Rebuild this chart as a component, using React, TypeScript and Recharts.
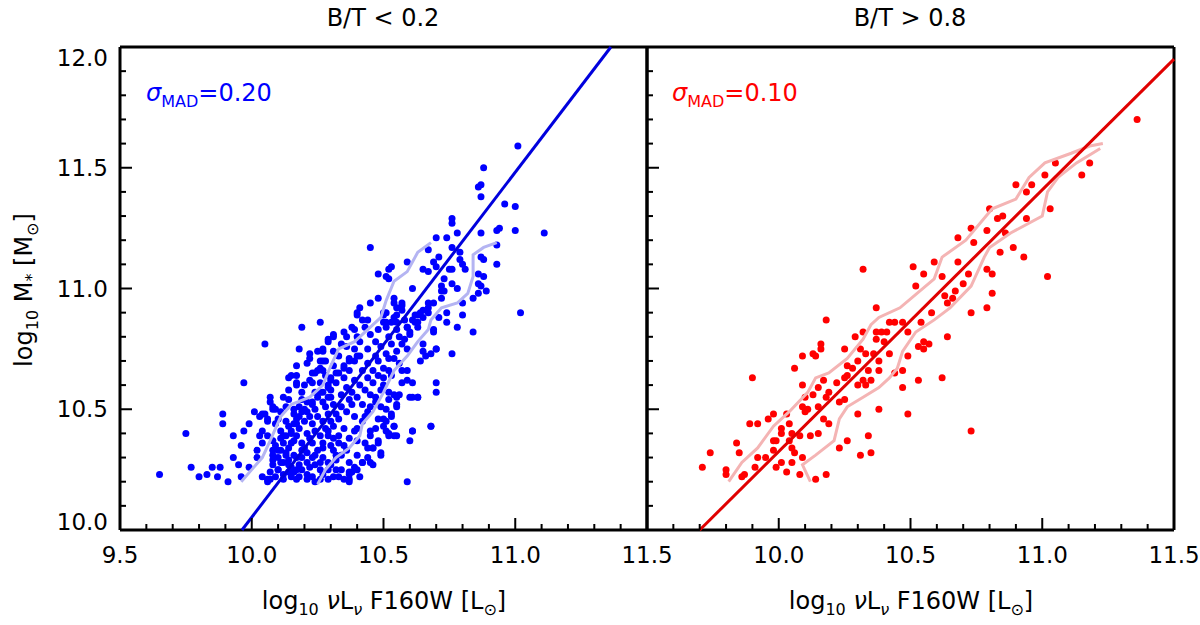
import { ScatterChart, Scatter, XAxis, YAxis } from 'recharts';

const FONT = '"DejaVu Sans", Verdana, sans-serif';

// axis ticks (major every 0.5, minor every 0.1)
const xTicks = [9.5, 9.6, 9.7, 9.8, 9.9, 10.0, 10.1, 10.2, 10.3, 10.4, 10.5, 10.6, 10.7, 10.8, 10.9, 11.0, 11.1, 11.2, 11.3, 11.4, 11.5];
const yTicks = [10.0, 10.1, 10.2, 10.3, 10.4, 10.5, 10.6, 10.7, 10.8, 10.9, 11.0, 11.1, 11.2, 11.3, 11.4, 11.5, 11.6, 11.7, 11.8, 11.9, 12.0];

const panelTitles = ['B/T < 0.2', 'B/T > 0.8'];
const sigmaValues = ['0.20', '0.10'];

// B/T < 0.2 galaxies: [log nuLnu, log M*]
const lowBtPoints: [number, number][] = [
  [10.05, 10.77], [9.97, 10.61], [9.75, 10.40], [9.65, 10.23], [9.77, 10.26], [9.80, 10.22], [9.83, 10.23], [9.85, 10.26],
  [9.87, 10.22], [9.88, 10.26], [9.89, 10.48], [9.89, 10.44], [9.91, 10.20], [9.93, 10.39], [9.93, 10.30], [9.95, 10.27],
  [9.96, 10.22], [9.96, 10.35], [9.97, 10.41], [9.99, 10.44], [10.01, 10.49], [10.03, 10.47], [10.03, 10.39], [10.02, 10.33],
  [9.99, 10.26], [10.02, 10.30], [10.05, 10.48], [10.07, 10.55], [10.08, 10.50], [10.09, 10.50], [10.06, 10.46], [10.04, 10.41],
  [10.04, 10.22], [10.06, 10.20], [10.14, 10.54], [10.14, 10.63], [10.17, 10.68], [10.17, 10.61], [10.17, 10.64], [10.18, 10.75],
  [10.21, 10.69], [10.22, 10.73], [10.23, 10.65], [10.23, 10.61], [10.27, 10.74], [10.27, 10.70], [10.27, 10.75], [10.27, 10.66],
  [10.29, 10.79], [10.31, 10.81], [10.35, 10.82],
  [10.84, 10.82], [10.76, 10.73], [10.70, 10.75], [10.68, 10.73], [10.66, 10.72], [10.65, 10.77], [10.64, 10.70], [10.59, 10.75],
  [10.59, 10.66], [10.61, 10.61], [10.57, 10.61], [10.70, 10.61], [10.70, 10.57], [10.60, 10.55], [10.63, 10.55], [10.56, 10.56],
  [10.55, 10.52], [10.53, 10.47], [10.54, 10.43], [10.61, 10.41], [10.60, 10.37], [10.68, 10.43], [10.55, 10.39], [10.52, 10.39],
  [10.51, 10.41], [10.49, 10.31], [10.48, 10.36], [10.46, 10.27], [10.44, 10.30], [10.42, 10.28], [10.44, 10.34], [10.41, 10.22],
  [10.39, 10.26], [10.37, 10.23], [10.59, 10.20], [10.37, 10.20], [10.46, 10.34], [10.45, 10.41], [10.48, 10.46], [10.51, 10.50],
  [10.50, 10.46], [10.52, 10.54], [10.54, 10.56],
  [10.45, 11.17], [10.59, 11.11], [10.52, 11.08], [10.48, 11.06], [10.52, 11.04], [10.61, 11.00], [10.48, 10.96], [10.54, 10.96],
  [10.45, 10.94], [10.41, 10.92], [10.40, 10.89], [10.42, 10.87], [10.38, 10.84], [10.31, 10.80], [10.26, 10.86], [10.19, 10.84],
  [10.50, 10.89], [10.51, 10.86], [10.55, 10.89], [10.57, 10.93], [10.57, 10.91], [10.59, 10.84], [10.51, 10.84], [10.53, 10.86],
  [10.63, 10.89], [10.61, 10.87],
  [11.01, 11.59], [10.88, 11.50], [10.86, 11.42], [10.87, 11.43], [10.87, 11.38], [10.96, 11.35], [11.00, 11.34], [10.94, 11.25],
  [10.93, 11.24], [11.00, 11.24], [11.11, 11.23], [10.87, 11.23], [10.93, 11.18], [10.93, 11.10], [10.76, 11.29], [10.76, 11.27],
  [10.74, 11.21], [10.78, 11.23], [10.70, 11.21], [10.67, 11.16], [10.53, 11.09], [10.51, 11.05], [10.71, 11.13], [10.69, 11.11],
  [10.70, 11.09], [10.65, 11.08], [10.67, 11.07], [10.76, 11.08], [10.79, 11.12], [10.80, 11.10], [10.81, 11.08], [10.76, 11.17],
  [10.79, 11.15], [10.87, 11.13], [10.88, 11.12], [10.86, 11.06], [10.88, 11.05], [10.86, 11.02], [10.87, 11.01], [10.89, 10.99],
  [10.86, 10.98], [10.84, 10.96], [10.80, 10.94], [10.80, 10.89], [10.78, 10.84], [11.02, 10.90], [10.75, 11.08], [10.72, 11.01],
  [10.72, 10.99], [10.73, 10.99], [10.73, 11.04], [10.76, 11.02], [10.78, 11.00], [10.72, 10.96], [10.69, 10.94], [10.67, 10.94],
  [10.65, 10.91], [10.67, 10.90], [10.62, 10.89], [10.63, 10.86], [10.65, 10.88], [10.74, 10.90], [10.71, 10.88], [10.74, 10.86],
  [10.69, 10.83], [10.54, 10.94], [10.57, 10.94], [10.55, 10.92], [10.50, 10.90], [10.60, 10.82],
  [10.40, 10.90], [10.44, 10.87], [10.29, 10.78], [10.25, 10.74], [10.22, 10.71], [10.26, 10.70], [10.26, 10.67], [10.15, 10.64],
  [10.17, 10.60], [10.13, 10.51], [10.08, 10.51],
  // dense band above the fit
  [10.51, 10.90], [10.54, 10.88], [10.50, 10.86], [10.55, 10.86], [10.48, 10.83], [10.45, 10.81], [10.47, 10.78], [10.41, 10.78],
  [10.44, 10.75], [10.39, 10.75], [10.41, 10.72], [10.37, 10.71], [10.39, 10.70], [10.35, 10.68], [10.37, 10.66], [10.33, 10.65],
  [10.35, 10.63], [10.30, 10.63], [10.32, 10.61], [10.29, 10.60], [10.30, 10.58], [10.27, 10.57], [10.29, 10.55], [10.25, 10.55],
  [10.27, 10.53], [10.23, 10.52], [10.24, 10.50], [10.20, 10.50], [10.22, 10.47], [10.18, 10.47], [10.20, 10.45], [10.16, 10.44],
  [10.18, 10.42], [10.15, 10.41], [10.17, 10.39], [10.13, 10.39], [10.15, 10.36], [10.12, 10.36], [10.14, 10.34], [10.11, 10.33],
  [10.13, 10.31], [10.10, 10.30], [10.11, 10.28], [10.08, 10.27], [10.10, 10.25], [10.07, 10.24], [10.09, 10.22], [10.06, 10.21],
  [10.43, 10.84], [10.40, 10.80], [10.36, 10.76], [10.33, 10.72], [10.31, 10.68], [10.28, 10.64], [10.26, 10.61], [10.24, 10.57],
  [10.21, 10.53], [10.19, 10.49], [10.17, 10.46], [10.14, 10.43], [10.12, 10.39], [10.09, 10.35], [10.08, 10.31], [10.12, 10.23],
  [10.14, 10.27], [10.16, 10.31], [10.19, 10.36], [10.21, 10.40], [10.23, 10.44], [10.25, 10.47], [10.28, 10.51], [10.30, 10.55],
  [10.08, 10.33], [10.11, 10.38], [10.13, 10.45], [10.16, 10.50], [10.19, 10.57], [10.22, 10.62], [10.25, 10.66], [10.28, 10.70],
  [10.31, 10.74], [10.34, 10.77], [10.36, 10.80], [10.39, 10.83], [10.09, 10.44], [10.11, 10.49], [10.14, 10.58], [10.20, 10.60],
  [10.24, 10.65], [10.12, 10.55], [10.14, 10.29], [10.19, 10.33], [10.16, 10.37], [10.21, 10.21], [10.12, 10.21], [10.15, 10.26],
  // dense band below the fit
  [10.67, 10.92], [10.64, 10.90], [10.63, 10.84], [10.59, 10.84], [10.60, 10.81], [10.56, 10.80], [10.57, 10.77], [10.53, 10.77],
  [10.55, 10.74], [10.51, 10.73], [10.52, 10.71], [10.48, 10.70], [10.50, 10.67], [10.46, 10.66], [10.48, 10.64], [10.44, 10.63],
  [10.46, 10.61], [10.41, 10.60], [10.43, 10.58], [10.38, 10.57], [10.40, 10.55], [10.37, 10.54], [10.38, 10.52], [10.34, 10.51],
  [10.36, 10.49], [10.32, 10.48], [10.33, 10.46], [10.30, 10.45], [10.31, 10.43], [10.28, 10.42], [10.29, 10.39], [10.26, 10.39],
  [10.27, 10.36], [10.23, 10.36], [10.25, 10.33], [10.21, 10.32], [10.23, 10.30], [10.19, 10.30], [10.21, 10.28], [10.18, 10.27],
  [10.19, 10.25], [10.16, 10.24], [10.18, 10.22], [10.15, 10.22],
  [10.62, 10.86], [10.58, 10.79], [10.54, 10.71], [10.50, 10.63], [10.45, 10.56], [10.42, 10.52], [10.39, 10.47], [10.35, 10.42],
  [10.33, 10.39], [10.30, 10.35], [10.27, 10.30], [10.24, 10.27], [10.21, 10.23], [10.26, 10.21], [10.29, 10.25], [10.32, 10.29],
  [10.34, 10.31], [10.39, 10.41], [10.42, 10.45], [10.44, 10.49], [10.47, 10.55], [10.49, 10.58], [10.52, 10.66], [10.56, 10.69],
  [10.17, 10.30], [10.20, 10.34], [10.22, 10.38], [10.24, 10.41], [10.27, 10.45], [10.29, 10.48], [10.31, 10.52], [10.34, 10.56],
  [10.36, 10.59], [10.39, 10.62], [10.42, 10.66], [10.44, 10.69], [10.47, 10.72], [10.49, 10.76], [10.52, 10.80], [10.55, 10.83],
  [10.58, 10.87], [10.24, 10.20], [10.27, 10.23], [10.30, 10.27], [10.32, 10.31], [10.35, 10.35], [10.37, 10.38], [10.40, 10.42],
  [10.43, 10.47], [10.45, 10.51], [10.47, 10.53], [10.50, 10.60], [10.53, 10.64], [10.29, 10.21], [10.26, 10.28], [10.24, 10.31],
  [10.22, 10.26], [10.40, 10.31], [10.43, 10.36], [10.45, 10.39], [10.47, 10.42], [10.50, 10.43], [10.49, 10.51], [10.52, 10.57],
  [10.57, 10.66], [10.59, 10.62], [10.61, 10.55], [10.63, 10.55], [10.55, 10.55], [10.55, 10.51], [10.53, 10.48], [10.54, 10.43],
  [10.51, 10.45], [10.52, 10.40], [10.54, 10.39], [10.48, 10.37], [10.49, 10.32], [10.46, 10.34], [10.45, 10.28], [10.42, 10.28],
  [10.40, 10.25], [10.37, 10.24], [10.34, 10.25], [10.33, 10.22], [10.37, 10.21], [10.31, 10.22], [10.68, 10.43], [10.61, 10.41],
  [10.65, 10.74], [10.69, 10.82], [10.70, 10.75],
  [10.07, 10.53], [10.04, 10.48], [10.06, 10.45], [10.06, 10.39], [10.04, 10.36],
  [10.10, 10.46], [10.11, 10.41], [10.08, 10.37], [10.10, 10.33], [10.08, 10.29], [10.10, 10.25], [10.07, 10.21], [10.13, 10.32],
  [10.12, 10.28], [10.14, 10.24], [10.16, 10.48], [10.17, 10.44], [10.15, 10.40], [10.18, 10.51], [10.21, 10.49], [10.19, 10.54],
  [10.23, 10.53], [10.26, 10.57], [10.29, 10.59], [10.30, 10.62], [10.32, 10.65], [10.35, 10.67], [10.37, 10.70], [10.40, 10.72],
  [10.29, 10.41], [10.31, 10.38], [10.33, 10.36], [10.31, 10.33], [10.29, 10.28], [10.32, 10.25], [10.35, 10.21], [10.38, 10.24],
  [10.37, 10.28], [10.36, 10.33], [10.40, 10.37], [10.23, 10.22], [10.26, 10.25], [10.27, 10.34], [10.17, 10.25], [10.17, 10.21],
];

// B/T > 0.8 galaxies
const highBtPoints: [number, number][] = [
  [10.32, 11.08], [10.51, 11.09], [10.55, 11.06], [10.52, 11.01], [10.37, 10.92], [10.18, 10.87], [10.44, 10.86], [10.42, 10.86],
  [10.47, 10.86], [10.54, 10.86], [10.32, 10.82], [10.29, 10.80], [10.37, 10.82], [10.39, 10.82], [10.41, 10.82], [10.37, 10.79],
  [10.40, 10.78], [10.49, 10.82], [10.55, 10.78], [10.57, 10.77], [10.53, 10.76], [10.55, 10.75], [10.16, 10.77], [10.16, 10.75],
  [10.13, 10.73], [10.14, 10.72], [10.09, 10.72], [10.25, 10.75], [10.31, 10.75], [10.33, 10.73], [10.30, 10.70], [10.36, 10.73],
  [10.38, 10.70], [10.42, 10.73], [10.49, 10.72], [10.06, 10.67], [10.26, 10.68], [10.28, 10.67], [10.26, 10.64], [10.34, 10.66],
  [10.38, 10.66], [10.44, 10.65], [10.47, 10.66], [9.90, 10.63], [10.09, 10.60], [10.17, 10.62], [10.15, 10.59], [10.22, 10.61],
  [10.25, 10.63], [10.30, 10.60], [10.32, 10.62], [10.33, 10.60], [10.35, 10.62], [10.47, 10.59], [10.53, 10.62], [10.10, 10.55],
  [10.13, 10.56], [10.18, 10.55], [10.19, 10.57], [10.09, 10.51], [10.10, 10.49], [10.11, 10.50], [10.15, 10.51], [10.23, 10.53],
  [10.25, 10.54], [10.38, 10.50], [10.30, 10.48], [10.49, 10.48], [9.98, 10.48], [10.03, 10.48], [9.92, 10.44], [9.89, 10.44],
  [9.96, 10.46], [10.01, 10.42], [10.04, 10.44], [10.05, 10.40], [10.01, 10.40], [10.12, 10.39], [10.15, 10.40], [10.08, 10.39],
  [10.17, 10.46], [10.19, 10.44], [9.98, 10.37], [9.99, 10.37], [9.98, 10.33], [10.04, 10.37], [10.05, 10.34], [10.06, 10.32],
  [10.05, 10.28], [10.01, 10.28], [9.99, 10.26], [10.03, 10.24], [10.08, 10.23], [10.09, 10.30], [10.14, 10.21], [10.18, 10.23],
  [10.23, 10.34], [10.26, 10.37], [10.31, 10.31], [10.35, 10.32], [10.34, 10.39], [9.84, 10.36], [9.85, 10.32], [9.92, 10.30],
  [9.91, 10.26], [9.74, 10.32], [9.71, 10.26], [9.80, 10.25], [9.80, 10.23], [9.86, 10.22], [9.87, 10.23], [9.95, 10.30],
  [11.36, 11.70], [11.15, 11.47], [11.01, 11.47], [10.96, 11.43], [10.90, 11.43], [10.94, 11.40], [11.05, 11.52], [11.18, 11.52],
  [11.03, 11.33], [10.80, 11.33], [10.85, 11.30], [10.83, 11.29], [10.94, 11.29], [10.73, 11.25], [10.79, 11.24], [10.68, 11.21],
  [10.74, 11.19], [10.86, 11.23], [10.89, 11.17], [10.93, 11.13], [10.84, 11.15], [10.59, 11.11], [10.68, 11.11], [10.79, 11.08],
  [10.81, 11.06], [10.62, 11.05], [10.72, 11.06], [10.70, 11.02], [10.67, 10.99], [10.66, 10.96], [10.64, 10.94], [10.63, 10.97],
  [10.81, 10.98], [11.02, 11.05], [10.73, 10.90], [10.79, 10.92], [10.58, 10.90], [10.64, 10.80], [10.62, 10.63], [10.73, 10.41],
];

// running percentile envelopes
const lowBtUpper: [number, number][] = [
  [9.96, 10.20], [10.00, 10.25], [10.04, 10.30], [10.07, 10.37], [10.11, 10.47], [10.15, 10.52], [10.22, 10.55], [10.27, 10.60],
  [10.30, 10.68], [10.33, 10.75], [10.39, 10.78], [10.44, 10.83], [10.49, 10.88], [10.51, 10.95], [10.54, 11.03], [10.59, 11.07],
  [10.63, 11.15], [10.68, 11.19],
];
const lowBtLower: [number, number][] = [
  [10.25, 10.19], [10.28, 10.25], [10.32, 10.30], [10.37, 10.34], [10.41, 10.39], [10.42, 10.44], [10.46, 10.49], [10.50, 10.57],
  [10.54, 10.66], [10.59, 10.72], [10.63, 10.78], [10.67, 10.83], [10.68, 10.87], [10.72, 10.92], [10.78, 10.94], [10.82, 10.98],
  [10.84, 11.05], [10.84, 11.14], [10.88, 11.17], [10.93, 11.19],
];
const highBtUpper: [number, number][] = [
  [9.81, 10.20], [9.86, 10.28], [9.92, 10.34], [9.98, 10.43], [10.04, 10.49], [10.11, 10.57], [10.14, 10.63], [10.19, 10.65],
  [10.26, 10.71], [10.32, 10.79], [10.35, 10.85], [10.38, 10.88], [10.46, 10.92], [10.59, 11.04], [10.62, 11.13], [10.71, 11.20],
  [10.81, 11.33], [10.90, 11.37], [10.95, 11.46], [11.01, 11.52], [11.11, 11.56], [11.18, 11.59], [11.23, 11.60],
];
const highBtLower: [number, number][] = [
  [10.12, 10.20], [10.09, 10.27], [10.14, 10.31], [10.21, 10.37], [10.23, 10.46], [10.26, 10.51], [10.32, 10.55], [10.38, 10.59],
  [10.42, 10.63], [10.45, 10.67], [10.47, 10.74], [10.52, 10.82], [10.59, 10.87], [10.65, 10.92], [10.73, 11.01], [10.78, 11.13],
  [10.80, 11.17], [10.88, 11.23], [11.00, 11.30], [11.02, 11.40], [11.06, 11.46], [11.13, 11.52], [11.22, 11.58],
];

// best-fit relations
const lowBtFit: [number, number][] = [[9.963, 10.0], [11.363, 12.0]];
const highBtFit: [number, number][] = [[9.70, 10.0], [11.5, 11.95]];

const toXY = (pts: [number, number][]) => pts.map(([x, y]) => ({ x, y }));
const isMajor = (v: number) => Math.abs(v * 2 - Math.round(v * 2)) < 1e-6;

const TICK_FS = 23;

function makeXTick(side: 'bottom' | 'top', labels: boolean, skipValue?: number) {
  return function XTick(props: any) {
    const { x, y, payload } = props;
    const v = Number(payload.value);
    const major = isMajor(v);
    const len = major ? 12 : 6;
    const dir = side === 'bottom' ? -1 : 1;
    const show = labels && major && v !== skipValue;
    return (
      <g>
        <line x1={x} x2={x} y1={y} y2={y + dir * len} stroke="#000" strokeWidth={2} />
        {show && (
          <text x={x} y={y + 33} textAnchor="middle" fontSize={TICK_FS} fontFamily={FONT} fill="#000">
            {v.toFixed(1)}
          </text>
        )}
      </g>
    );
  };
}

function makeYTick(side: 'left' | 'right', labels: boolean) {
  return function YTick(props: any) {
    const { x, y, payload } = props;
    const v = Number(payload.value);
    const major = isMajor(v);
    const len = major ? 12 : 6;
    const dir = side === 'left' ? 1 : -1;
    let shift = 0;
    if (v > 11.99) shift = 11;
    if (v < 10.01) shift = -8;
    return (
      <g>
        <line x1={x} x2={x + dir * len} y1={y} y2={y} stroke="#000" strokeWidth={2} />
        {labels && major && (
          <text x={x - 12} y={y + 8 + shift} textAnchor="end" fontSize={TICK_FS} fontFamily={FONT} fill="#000">
            {v.toFixed(1)}
          </text>
        )}
      </g>
    );
  };
}

const dot = (color: string) => (p: any) => <circle cx={p.cx} cy={p.cy} r={3.5} fill={color} />;
const noDot = () => <g />;

interface PanelProps {
  points: [number, number][];
  upper: [number, number][];
  lower: [number, number][];
  fit: [number, number][];
  color: string;
  lineColor: string;
  envColor: string;
  width: number;
  margin: { top: number; right: number; bottom: number; left: number };
  yLabels: boolean;
  skipX?: number;
}

function Panel({ points, upper, lower, fit, color, lineColor, envColor, width, margin, yLabels, skipX }: PanelProps) {
  const axisLine = { stroke: '#000', strokeWidth: 3 };
  return (
    <ScatterChart width={width} height={625} margin={margin}>
      <XAxis
        xAxisId="b"
        dataKey="x"
        type="number"
        domain={[9.5, 11.5]}
        ticks={xTicks}
        interval={0}
        height={1}
        tickSize={0}
        tickMargin={0}
        tickLine={false}
        axisLine={axisLine}
        tick={makeXTick('bottom', true, skipX)}
      />
      <XAxis
        xAxisId="t"
        orientation="top"
        dataKey="x"
        type="number"
        domain={[9.5, 11.5]}
        ticks={xTicks}
        interval={0}
        height={1}
        tickSize={0}
        tickMargin={0}
        tickLine={false}
        axisLine={axisLine}
        tick={makeXTick('top', false)}
      />
      <YAxis
        yAxisId="l"
        dataKey="y"
        type="number"
        domain={[10, 12]}
        ticks={yTicks}
        interval={0}
        width={1}
        tickSize={0}
        tickMargin={0}
        tickLine={false}
        axisLine={axisLine}
        tick={makeYTick('left', yLabels)}
      />
      <YAxis
        yAxisId="r"
        orientation="right"
        dataKey="y"
        type="number"
        domain={[10, 12]}
        ticks={yTicks}
        interval={0}
        width={1}
        tickSize={0}
        tickMargin={0}
        tickLine={false}
        axisLine={axisLine}
        tick={makeYTick('right', false)}
      />
      <Scatter xAxisId="b" yAxisId="l" data={toXY(points)} shape={dot(color)} isAnimationActive={false} />
      <Scatter xAxisId="b" yAxisId="l" data={toXY(upper)} shape={noDot} line={{ stroke: envColor, strokeWidth: 3 }} isAnimationActive={false} />
      <Scatter xAxisId="b" yAxisId="l" data={toXY(lower)} shape={noDot} line={{ stroke: envColor, strokeWidth: 3 }} isAnimationActive={false} />
      <Scatter xAxisId="b" yAxisId="l" data={toXY(fit)} shape={noDot} line={{ stroke: lineColor, strokeWidth: 3 }} isAnimationActive={false} />
    </ScatterChart>
  );
}

const xAxisTitle = (cx: number) => (
  <text x={cx} y={609} textAnchor="middle" fontSize={24} fontFamily={FONT} fill="#000">
    log<tspan fontSize={16} dy={6}>10</tspan>
    <tspan dy={-6}> </tspan>
    <tspan fontStyle="italic">ν</tspan>L<tspan fontSize={16} dy={6} fontStyle="italic">ν</tspan>
    <tspan dy={-6}> F160W [L</tspan>
    <tspan fontSize={16} dy={6}>⊙</tspan>
    <tspan dy={-6}>]</tspan>
  </text>
);

export default function App() {
  return (
    <div style={{ position: 'absolute', left: 0, top: 0, width: 1200, height: 625, background: '#fff', overflow: 'hidden' }}>
      <div style={{ position: 'absolute', left: 0, top: 0 }}>
        <Panel
          points={lowBtPoints}
          upper={lowBtUpper}
          lower={lowBtLower}
          fit={lowBtFit}
          color="#0000ff"
          lineColor="#0000dd"
          envColor="#b4b4f2"
          width={690}
          margin={{ top: 46, right: 42, bottom: 94, left: 119 }}
          yLabels={true}
        />
      </div>
      <div style={{ position: 'absolute', left: 600, top: 0 }}>
        <Panel
          points={highBtPoints}
          upper={highBtUpper}
          lower={highBtLower}
          fit={highBtFit}
          color="#ff0000"
          lineColor="#e00000"
          envColor="#f4b4b4"
          width={600}
          margin={{ top: 46, right: 25, bottom: 94, left: 46 }}
          yLabels={false}
          skipX={9.5}
        />
      </div>
      <svg width={1200} height={625} style={{ position: 'absolute', left: 0, top: 0, pointerEvents: 'none' }}>
        <text x={383} y={26} textAnchor="middle" fontSize={24} fontFamily={FONT} fill="#000">{panelTitles[0]}</text>
        <text x={910} y={26} textAnchor="middle" fontSize={24} fontFamily={FONT} fill="#000">{panelTitles[1]}</text>
        {xAxisTitle(384)}
        {xAxisTitle(911)}
        <text transform="translate(32, 290) rotate(-90)" x={0} y={0} textAnchor="middle" fontSize={24} fontFamily={FONT} fill="#000">
          log<tspan fontSize={16} dy={6}>10</tspan>
          <tspan dy={-6}> M</tspan>
          <tspan fontSize={16} dy={5}>*</tspan>
          <tspan dy={-5}> [M</tspan>
          <tspan fontSize={16} dy={6}>⊙</tspan>
          <tspan dy={-6}>]</tspan>
        </text>
        <text x={146} y={101} fontSize={24} fontFamily={FONT} fill="#0000ff">
          <tspan fontStyle="italic">σ</tspan>
          <tspan fontSize={16} dy={6}>MAD</tspan>
          <tspan dy={-6}>={sigmaValues[0]}</tspan>
        </text>
        <text x={672} y={101} fontSize={24} fontFamily={FONT} fill="#ff0000">
          <tspan fontStyle="italic">σ</tspan>
          <tspan fontSize={16} dy={6}>MAD</tspan>
          <tspan dy={-6}>={sigmaValues[1]}</tspan>
        </text>
      </svg>
    </div>
  );
}
